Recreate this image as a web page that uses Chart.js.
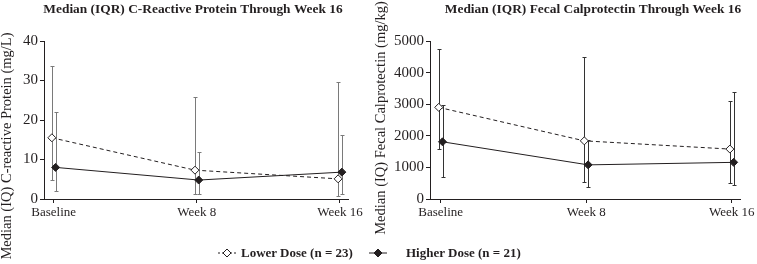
<!DOCTYPE html>
<html>
<head>
<meta charset="utf-8">
<script src="https://cdn.jsdelivr.net/npm/chart.js@4"></script>
<style>
  body { margin: 0; background: #fff; }
  #wrap { position: relative; width: 757px; height: 264px; overflow: hidden; }
  #crp { position: absolute; left: 0; top: 0; }
  #fcp { position: absolute; left: 368px; top: 0; }
  .leg { position: absolute; top: 245px; height: 16px; line-height: 16px; font: bold 13px "Liberation Serif", serif; color: #231f20; white-space: nowrap; }
  .mark { position: absolute; top: 247px; }
</style>
</head>
<body>
<div id="wrap">
  <canvas id="crp" width="368" height="264"></canvas>
  <canvas id="fcp" width="389" height="264"></canvas>
  <svg class="mark" style="left:218px" width="18" height="12">
    <line x1="0" y1="6" x2="18" y2="6" stroke="#231f20" stroke-width="1" stroke-dasharray="2,2"/>
    <path d="M9 2 L13 6 L9 10 L5 6 Z" fill="#fff" stroke="#231f20" stroke-width="1"/>
  </svg>
  <div class="leg" style="left:241px">Lower Dose (n = 23)</div>
  <svg class="mark" style="left:369px" width="18" height="12">
    <line x1="0" y1="6" x2="18" y2="6" stroke="#231f20" stroke-width="1"/>
    <path d="M9 2 L13 6 L9 10 L5 6 Z" fill="#231f20" stroke="#231f20" stroke-width="1"/>
  </svg>
  <div class="leg" style="left:406px">Higher Dose (n = 21)</div>
</div>
<script>
// time points
const categories = ['Baseline', 'Week 8', 'Week 16'];

// C-reactive protein (mg/L): median and IQR
const crpLowerMedian = [15.5, 7.3, 5.1];
const crpLowerQ1 = [4.9, 1.3, 0.8];
const crpLowerQ3 = [33.7, 25.9, 29.7];
const crpHigherMedian = [8.0, 4.8, 6.8];
const crpHigherQ1 = [2.1, 1.3, 1.3];
const crpHigherQ3 = [21.9, 11.9, 16.3];

// fecal calprotectin (mg/kg): median and IQR
const fcpLowerMedian = [2900, 1840, 1580];
const fcpLowerQ1 = [1590, 540, 510];
const fcpLowerQ3 = [4750, 4500, 3100];
const fcpHigherMedian = [1810, 1080, 1160];
const fcpHigherQ1 = [700, 380, 455];
const fcpHigherQ3 = [2990, 1880, 3400];

const FONT = '"Liberation Serif", "DejaVu Serif", serif';
const INK = '#231f20';

// draws the IQR whiskers behind the points
const iqrPlugin = {
  id: 'iqr',
  beforeDatasetsDraw(chart, args, opts) {
    const ctx = chart.ctx;
    const y = chart.scales.y;
    ctx.save();
    ctx.strokeStyle = opts.color;
    ctx.lineWidth = 1;
    chart.data.datasets.forEach((ds, i) => {
      const meta = chart.getDatasetMeta(i);
      meta.data.forEach((pt, j) => {
        const x = Math.round(pt.x) + 0.5;
        const top = Math.round(y.getPixelForValue(ds.q3[j])) + 0.5;
        const bot = Math.round(y.getPixelForValue(ds.q1[j])) + 0.5;
        ctx.beginPath();
        ctx.moveTo(x, top); ctx.lineTo(x, bot);
        ctx.moveTo(x - 2, top); ctx.lineTo(x + 2, top);
        ctx.moveTo(x - 2, bot); ctx.lineTo(x + 2, bot);
        ctx.stroke();
      });
    });
    ctx.restore();
  }
};

// chart title and rotated y axis title, placed freely
const labelsPlugin = {
  id: 'labels',
  afterDraw(chart, args, o) {
    const ctx = chart.ctx;
    ctx.save();
    ctx.fillStyle = INK;
    ctx.textAlign = 'center';
    ctx.textBaseline = 'middle';
    ctx.font = 'bold 13.4px ' + FONT;
    ctx.fillText(o.title, o.titleX, 10);
    ctx.translate(o.yTitleX, o.yTitleY);
    ctx.rotate(-Math.PI / 2);
    ctx.font = '14.5px ' + FONT;
    ctx.fillText(o.yTitle, 0, 0);
    ctx.restore();
  }
};

function makeChart(id, cfg) {
  return new Chart(document.getElementById(id), {
    type: 'line',
    data: {
      datasets: [
        {
          label: 'Lower Dose (n = 23)',
          data: cfg.lower.map((v, i) => ({ x: i - 0.013, y: v })),
          q1: cfg.lowerQ1, q3: cfg.lowerQ3,
          borderColor: INK, borderWidth: 1, borderDash: [4, 3],
          pointStyle: 'rectRot', pointRadius: 4,
          pointBackgroundColor: '#fff', pointBorderColor: INK, pointBorderWidth: 1
        },
        {
          label: 'Higher Dose (n = 21)',
          data: cfg.higher.map((v, i) => ({ x: i + 0.013, y: v })),
          q1: cfg.higherQ1, q3: cfg.higherQ3,
          borderColor: INK, borderWidth: 1,
          pointStyle: 'rectRot', pointRadius: 4,
          pointBackgroundColor: INK, pointBorderColor: INK, pointBorderWidth: 1
        }
      ]
    },
    options: {
      responsive: false,
      animation: false,
      layout: { padding: { top: 41, right: cfg.padRight } },
      scales: {
        x: {
          type: 'linear', min: cfg.xMin, max: cfg.xMax,
          afterBuildTicks: s => { s.ticks = categories.map((c, i) => ({ value: i })); },
          afterFit: s => { s.height = 65; },
          ticks: {
            autoSkip: false, maxRotation: 0, padding: 2, color: INK,
            font: { family: FONT, size: 13 },
            callback: v => categories[v]
          },
          grid: { drawOnChartArea: false, tickLength: 4, color: INK },
          border: { color: INK, width: 1 }
        },
        y: {
          min: 0, max: cfg.yMax,
          afterFit: s => { s.width = cfg.yWidth; },
          ticks: {
            stepSize: cfg.yStep, padding: 2, color: INK,
            font: { family: FONT, size: 15 },
            callback: v => String(v)
          },
          grid: { drawOnChartArea: false, tickLength: 4, color: INK },
          border: { color: INK, width: 1 }
        }
      },
      plugins: {
        legend: { display: false },
        tooltip: { enabled: false },
        iqr: { color: cfg.whisker },
        labels: {
          title: cfg.title, titleX: cfg.titleX,
          yTitle: cfg.yTitle, yTitleX: cfg.yTitleX, yTitleY: cfg.yTitleY
        }
      }
    },
    plugins: [iqrPlugin, labelsPlugin]
  });
}

makeChart('crp', {
  title: 'Median (IQR) C-Reactive Protein Through Week 16', titleX: 193,
  yTitle: 'Median (IQ) C-reactive Protein (mg/L)',
  yTitleX: 7, yTitleY: 146,
  lower: crpLowerMedian, lowerQ1: crpLowerQ1, lowerQ3: crpLowerQ3,
  higher: crpHigherMedian, higherQ1: crpHigherQ1, higherQ3: crpHigherQ3,
  yMax: 40, yStep: 10, yWidth: 44, padRight: 20,
  xMin: -0.068, xMax: 2.056, whisker: '#7a7a7a'
});

makeChart('fcp', {
  title: 'Median (IQR) Fecal Calprotectin Through Week 16', titleX: 225,
  yTitle: 'Median (IQ) Fecal Calprotectin (mg/kg)',
  yTitleX: 13, yTitleY: 118,
  lower: fcpLowerMedian, lowerQ1: fcpLowerQ1, lowerQ3: fcpLowerQ3,
  higher: fcpHigherMedian, higherQ1: fcpHigherQ1, higherQ3: fcpHigherQ3,
  yMax: 5000, yStep: 1000, yWidth: 62, padRight: 16,
  xMin: -0.073, xMax: 2.062, whisker: '#333'
});
</script>
</body>
</html>
